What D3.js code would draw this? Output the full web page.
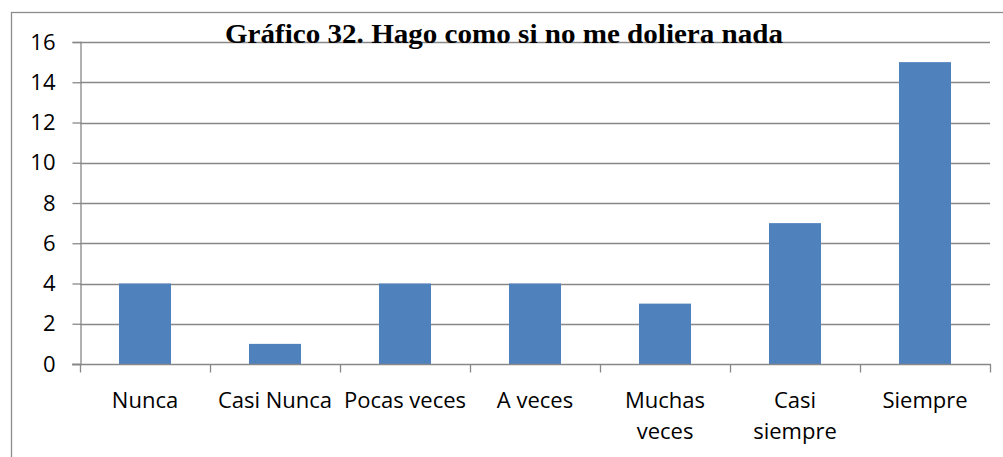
<!DOCTYPE html>
<html>
<head>
<meta charset="utf-8">
<script src="https://cdn.jsdelivr.net/npm/d3@7"></script>
<style>
  body { margin: 0; background: #fff; }
  svg { display: block; }
</style>
</head>
<body>
<script>
// chart data
var categories = ["Nunca", "Casi Nunca", "Pocas veces", "A veces", "Muchas veces", "Casi siempre", "Siempre"];
var values = [4, 1, 4, 4, 3, 7, 15];
var yTicks = [0, 2, 4, 6, 8, 10, 12, 14, 16];
var wrapped = ["Muchas veces", "Casi siempre"];
var title = "Gráfico 32. Hago como si no me doliera nada";

var width = 1003,
    height = 457;

var margin = {left: 80, right: 13, top: 42, bottom: 93};

var svg = d3.select("body").append("svg")
    .attr("width", width)
    .attr("height", height);

// outer frame of the chart object
svg.append("rect")
    .attr("x", 11.5)
    .attr("y", 12.5)
    .attr("width", 1000)
    .attr("height", 500)
    .attr("fill", "none")
    .attr("stroke", "#8c8c8c")
    .attr("stroke-width", 1.3);

var x = d3.scaleBand()
    .domain(categories)
    .range([margin.left, width - margin.right])
    .paddingInner(0.6)
    .paddingOuter(0.3);

var y = d3.scaleLinear()
    .domain([0, 16])
    .range([height - margin.bottom, margin.top]);

var g = svg.append("g");

// gridlines
g.selectAll(".grid")
    .data(yTicks.slice(1))
  .enter().append("line")
    .attr("x1", margin.left)
    .attr("x2", width - margin.right)
    .attr("y1", function(d) { return Math.round(y(d)) + 0.5; })
    .attr("y2", function(d) { return Math.round(y(d)) + 0.5; })
    .attr("stroke", "#888")
    .attr("stroke-width", 1.3);

// bars
g.selectAll(".bar")
    .data(values)
  .enter().append("rect")
    .attr("class", "bar")
    .attr("x", function(d, i) { return x(categories[i]); })
    .attr("width", x.bandwidth())
    .attr("y", function(d) { return y(d); })
    .attr("height", function(d) { return y(0) - y(d); })
    .attr("fill", "#4f81bd");

// y axis
var yAxis = d3.axisLeft(y)
    .tickValues(yTicks)
    .tickSize(8)
    .tickPadding(17);

var ya = svg.append("g")
    .attr("transform", "translate(" + (margin.left + 0.5) + ",0)")
    .call(yAxis);

// x axis, ticks between categories
var xa = svg.append("g")
    .attr("transform", "translate(0," + (Math.round(y(0)) + 0.5) + ")");

xa.append("line")
    .attr("x1", margin.left - 8)
    .attr("x2", width - margin.right + 1)
    .attr("stroke", "#888")
    .attr("stroke-width", 1.3);

var bounds = categories.map(function(c) { return x(c) - x.step() * x.paddingInner() / 2; });
bounds.push(width - margin.right);

xa.selectAll(".xt")
    .data(bounds)
  .enter().append("line")
    .attr("x1", function(d) { return Math.round(d) + 0.5; })
    .attr("x2", function(d) { return Math.round(d) + 0.5; })
    .attr("y1", 0)
    .attr("y2", 8)
    .attr("stroke", "#888")
    .attr("stroke-width", 1.3);

var labels = xa.selectAll(".xl")
    .data(categories)
  .enter().append("text")
    .attr("text-anchor", "middle")
    .style("font-family", "'Open Sans', sans-serif")
    .style("font-size", "22px")
    .attr("fill", "#000");

labels.each(function(d) {
  var t = d3.select(this);
  var lines = wrapped.indexOf(d) >= 0 ? d.split(" ") : [d];
  lines.forEach(function(l, i) {
    t.append("tspan")
      .attr("x", x(d) + x.bandwidth() / 2)
      .attr("y", 43.5 + i * 31)
      .text(l);
  });
});

ya.select(".domain")
    .attr("stroke", "#888")
    .attr("stroke-width", 1.3);
ya.selectAll(".tick line")
    .attr("stroke", "#888")
    .attr("stroke-width", 1.3);
ya.selectAll(".tick text")
    .style("font-family", "'Open Sans', sans-serif")
    .style("font-size", "22px")
    .attr("fill", "#000");

// title
svg.append("text")
    .attr("x", 504)
    .attr("y", 43)
    .attr("text-anchor", "middle")
    .attr("textLength", 558)
    .attr("lengthAdjust", "spacingAndGlyphs")
    .style("font-family", "'Liberation Serif', 'Times New Roman', serif")
    .style("font-weight", "bold")
    .style("font-size", "27px")
    .text(title);
</script>
</body>
</html>
